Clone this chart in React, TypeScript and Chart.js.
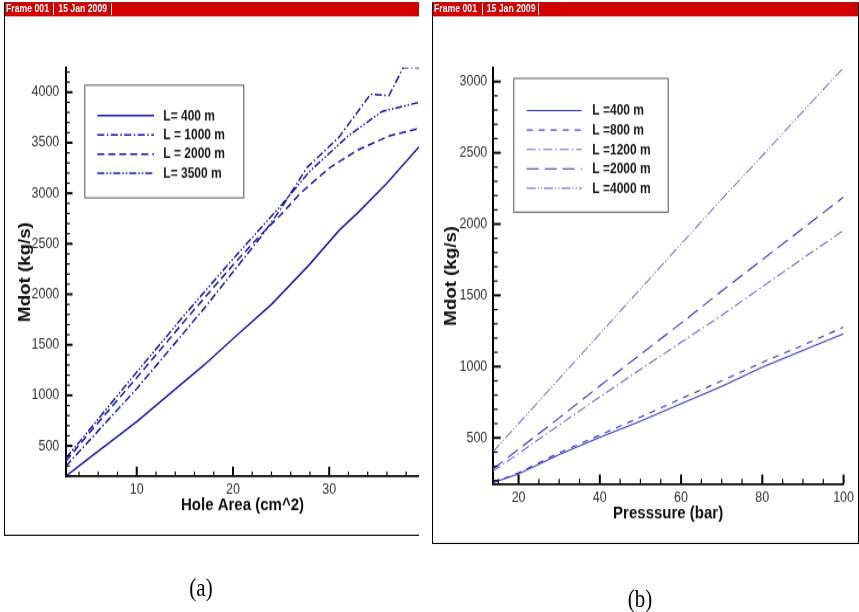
import React, { useEffect, useRef } from 'react';
import { Chart, registerables } from 'chart.js';

Chart.register(...registerables);

// ---------- Panel (a): Mdot vs Hole Area ----------
const areaX400 = [2.65, 5, 10, 14, 17, 20, 24, 28, 31, 33, 36, 39.33];
const mdotA400 = [200, 375, 740, 1060, 1300, 1560, 1900, 2300, 2630, 2810, 3100, 3460];
const areaX1000 = [2.65, 5, 10, 13.5, 17, 20, 23, 25, 27.7, 31, 34.3, 36.2, 37.7, 39.33];
const mdotA1000 = [300, 545, 1066, 1462, 1860, 2220, 2580, 2850, 3256, 3553, 3981, 3965, 4244, 4244];
const areaX2000 = [2.65, 5, 10, 15, 20, 23, 25, 27, 30, 33, 36.3, 39.33];
const mdotA2000 = [350, 620, 1175, 1740, 2290, 2600, 2790, 3000, 3250, 3430, 3570, 3640];
const areaX3500 = [2.65, 5, 10, 15, 20, 25, 28, 32, 35.5, 39.33];
const mdotA3500 = [380, 650, 1230, 1800, 2350, 2880, 3220, 3570, 3810, 3900];
const labelsA = ['L= 400 m', 'L = 1000 m', 'L = 2000 m', 'L= 3500 m'];
const xTicksA = [10, 20, 30];
const yTicksA = [500, 1000, 1500, 2000, 2500, 3000, 3500, 4000];

// ---------- Panel (b): Mdot vs Pressure ----------
const pressX = [13.63, 20, 30, 40, 50, 60, 70, 80, 90, 100];
const mdotP400 = [185, 247, 383, 504, 617, 740, 860, 996, 1113, 1230];
const mdotP800 = [185, 255, 395, 520, 645, 775, 900, 1030, 1150, 1277];
const mdotP1200 = [265, 390, 590, 788, 980, 1170, 1360, 1560, 1760, 1956];
const mdotP2000 = [280, 420, 640, 865, 1085, 1305, 1530, 1750, 1970, 2190];
const mdotP4000 = [400, 600, 915, 1230, 1545, 1860, 2175, 2480, 2790, 3098];
const labelsB = ['L =400 m', 'L =800 m', 'L =1200 m', 'L =2000 m', 'L =4000 m'];
const xTicksB = [20, 40, 60, 80, 100];
const yTicksB = [500, 1000, 1500, 2000, 2500, 3000];

const S = 1.17; // vertical stretch of the reference figure
const SANS = "'Liberation Sans', Arial, sans-serif";

const pts = (xs: number[], ys: number[]) => xs.map((x, i) => ({ x, y: ys[i] }));

function makeDecor(p: any) {
  const t = p.ticks;
  const lg = p.legend;
  return {
    id: 'decor',
    afterDraw(chart: any) {
      const { ctx, chartArea } = chart;
      const xs = chart.scales.x;
      const ys = chart.scales.y;
      const eps = 1e-6;
      ctx.save();
      ctx.setLineDash([]);
      ctx.strokeStyle = '#000';
      // inner tick marks on x axis
      const k0x = Math.ceil(xs.min / t.xMinor - eps);
      const k1x = Math.floor(xs.max / t.xMinor + eps);
      for (let k = k0x; k <= k1x; k++) {
        const v = k * t.xMinor;
        const major = t.xMajor.some((m: number) => Math.abs(m - v) < eps);
        const px = xs.getPixelForValue(v);
        ctx.lineWidth = major ? 2 : 1.2;
        ctx.beginPath();
        ctx.moveTo(px, chartArea.bottom);
        ctx.lineTo(px, chartArea.bottom - (major ? t.xMajorLen : t.xMinorLen));
        ctx.stroke();
      }
      // inner tick marks on y axis
      const k0y = Math.ceil(ys.min / t.yMinor - eps);
      const k1y = Math.floor(ys.max / t.yMinor + eps);
      for (let k = k0y; k <= k1y; k++) {
        const v = k * t.yMinor;
        const major = t.yMajor.some((m: number) => Math.abs(m - v) < eps);
        const py = ys.getPixelForValue(v);
        ctx.lineWidth = major ? 2 : 1.2;
        ctx.beginPath();
        ctx.moveTo(chartArea.left, py);
        ctx.lineTo(chartArea.left + (major ? t.yMajorLen : t.yMinorLen), py);
        ctx.stroke();
      }
      // legend box
      ctx.fillStyle = '#fff';
      ctx.fillRect(lg.x1, lg.y1, lg.x2 - lg.x1, lg.y2 - lg.y1);
      ctx.strokeStyle = '#555';
      ctx.lineWidth = 1;
      ctx.strokeRect(lg.x1 + 0.5, lg.y1 + 0.5, lg.x2 - lg.x1, lg.y2 - lg.y1);
      chart.data.datasets.forEach((d: any, i: number) => {
        const y = lg.rowY0 + i * lg.rowGap;
        ctx.setLineDash(d.borderDash || []);
        ctx.strokeStyle = d.borderColor;
        ctx.lineWidth = d.borderWidth;
        ctx.beginPath();
        ctx.moveTo(lg.sx1, y);
        ctx.lineTo(lg.sx2, y);
        ctx.stroke();
        ctx.setLineDash([]);
        ctx.fillStyle = '#1a1a1a';
        ctx.font = lg.font;
        ctx.textBaseline = 'middle';
        ctx.textAlign = 'left';
        ctx.fillText(d.label, lg.tx, y + 0.5);
      });
      ctx.restore();
    },
  };
}

function makeConfig(p: any) {
  const tickFont = { family: SANS, size: 12.5 };
  return {
    type: 'line',
    data: { datasets: p.datasets },
    plugins: [makeDecor(p)],
    options: {
      responsive: false,
      animation: false,
      devicePixelRatio: 1,
      events: [],
      layout: { padding: { top: p.padTop, right: p.padRight, left: 0, bottom: 0 } },
      elements: { point: { radius: 0 }, line: { tension: 0 } },
      plugins: {
        legend: { display: false },
        tooltip: { enabled: false },
      },
      scales: {
        x: {
          type: 'linear',
          min: p.xMin,
          max: p.xMax,
          afterBuildTicks: (s: any) => { s.ticks = p.xTicks.map((v: number) => ({ value: v })); },
          afterFit: (s: any) => { s.height = p.xHeight; },
          grid: { display: false, drawTicks: false },
          border: { display: true, color: '#000', width: 1.8 },
          ticks: { font: tickFont, color: '#333', padding: p.xTickPad, maxRotation: 0, autoSkip: false, callback: (v: any) => String(v) },
          title: { display: true, text: p.xTitle, color: '#111', font: { family: SANS, size: 15, weight: 'bold' }, padding: { top: 0, bottom: p.xTitlePad } },
        },
        y: {
          type: 'linear',
          min: p.yMin,
          max: p.yMax,
          afterBuildTicks: (s: any) => { s.ticks = p.yTicks.map((v: number) => ({ value: v })); },
          afterFit: (s: any) => { s.width = p.yWidth; },
          grid: { display: false, drawTicks: false },
          border: { display: true, color: '#000', width: 2 },
          ticks: { font: tickFont, color: '#333', padding: p.yTickPad, autoSkip: false, callback: (v: any) => String(v) },
          title: { display: true, text: 'Mdot (kg/s)', color: '#111', font: { family: SANS, size: 16, weight: 'bold' }, padding: { top: p.yTitlePad, bottom: 0 } },
        },
      },
    },
  };
}

const ds = (label: string, data: any[], color: string, width: number, dash: number[]) => ({
  label, data, borderColor: color, borderWidth: width, borderDash: dash, fill: false, pointRadius: 0,
});

const CA = '#1818a8';

const panelA = {
  datasets: [
    ds(labelsA[0], pts(areaX400, mdotA400), CA, 1.5, []),
    ds(labelsA[1], pts(areaX1000, mdotA1000), CA, 1.5, [7, 2.5, 1.5, 2.5]),
    ds(labelsA[2], pts(areaX2000, mdotA2000), CA, 1.5, [7, 4]),
    ds(labelsA[3], pts(areaX3500, mdotA3500), CA, 1.5, [7, 2, 1.5, 2, 1.5, 2]),
  ],
  padTop: (67 - 17) / S, padRight: 0,
  xMin: 2.65, xMax: 39.33, yMin: 196, yMax: 4244,
  xTicks: xTicksA, yTicks: yTicksA,
  xHeight: 442 - (476 - 17) / S, yWidth: 61,
  xTickPad: 3.6, yTickPad: 6.7,
  xTitle: 'Hole Area (cm^2)', xTitlePad: 16.5, yTitlePad: 10.5,
  ticks: { xMajor: xTicksA, xMinor: 2, yMajor: yTicksA, yMinor: 100, xMajorLen: 8.5, xMinorLen: 4.3, yMajorLen: 6.5, yMinorLen: 3.8 },
  legend: { x1: 79.3, y1: 57.3, x2: 238.3, y2: 153.6, sx1: 92.3, sx2: 149, tx: 158.3, rowY0: 83.8, rowGap: 16.43, font: `bold 12px ${SANS}` },
};

const panelB = {
  datasets: [
    ds(labelsB[0], pts(pressX, mdotP400), '#3838c4', 1.1, []),
    ds(labelsB[1], pts(pressX, mdotP800), '#3434c0', 1.1, [6, 6]),
    ds(labelsB[2], pts(pressX, mdotP1200), '#6a6ad0', 1.1, [9, 3, 1.5, 3]),
    ds(labelsB[3], pts(pressX, mdotP2000), '#3030bc', 1.1, [12, 6]),
    ds(labelsB[4], pts(pressX, mdotP4000), '#7878d4', 1.1, [9, 2, 1.2, 2, 1.2, 2]),
  ],
  padTop: (67.3 - 17) / S, padRight: 13,
  xMin: 13.63, xMax: 100, yMin: 177, yMax: 3096,
  xTicks: xTicksB, yTicks: yTicksB,
  xHeight: 450 - (483.3 - 17) / S, yWidth: 58.7,
  xTickPad: 4, yTickPad: 5.4,
  xTitle: 'Presssure (bar)', xTitlePad: 16.8, yTitlePad: 7.5,
  ticks: { xMajor: xTicksB, xMinor: 5, yMajor: yTicksB, yMinor: 100, xMajorLen: 8, xMinorLen: 4.3, yMajorLen: 8, yMinorLen: 5 },
  legend: { x1: 79.3, y1: 51.5, x2: 233.7, y2: 165.8, sx1: 92.7, sx2: 147.7, tx: 158.3, rowY0: 79.5, rowGap: 16.6, font: `bold 12px ${SANS}` },
};

function ChartCanvas({ panel, left, top, width, height }: any) {
  const ref = useRef<HTMLCanvasElement | null>(null);
  useEffect(() => {
    if (!ref.current) return;
    const chart = new Chart(ref.current, makeConfig(panel) as any);
    return () => chart.destroy();
  }, [panel]);
  return (
    <canvas
      ref={ref}
      width={width}
      height={height}
      style={{ position: 'absolute', left, top, width, height, display: 'block' }}
    />
  );
}

const Y = (py: number) => py / S;

function Header({ left, width, seps, items }: any) {
  const h = Y(16.7) - Y(2.7);
  return (
    <div style={{ position: 'absolute', left, top: Y(2.7), width, height: h, background: '#d20000' }}>
      {items.map((it: any, i: number) => (
        <span key={i} style={{ position: 'absolute', left: it.x - left, top: 0, lineHeight: `${h}px`, fontFamily: SANS, fontWeight: 'bold', fontSize: 8.7, color: '#fff', whiteSpace: 'nowrap' }}>{it.t}</span>
      ))}
      {seps.map((x: number, i: number) => (
        <div key={'s' + i} style={{ position: 'absolute', left: x - left, top: 1.2, width: 1, height: 9.5, background: '#fff' }} />
      ))}
    </div>
  );
}

export default function App() {
  return (
    <div style={{ position: 'absolute', left: 0, top: 0, width: 859, height: 612, overflow: 'hidden', background: '#fff' }}>
      <div style={{ position: 'absolute', left: 0, top: 0, width: 859, height: 612 / S, transform: `scaleY(${S})`, transformOrigin: '0 0' }}>
        {/* left frame */}
        <div style={{ position: 'absolute', left: 4, top: Y(2), width: 415, height: Y(535.5) - Y(2), borderLeft: '1px solid #000', borderTop: '1px solid #000', borderBottom: '1px solid #000', boxSizing: 'border-box' }} />
        <Header left={5} width={414} seps={[53.3, 111]} items={[{ x: 6, t: 'Frame 001' }, { x: 58.3, t: '15 Jan 2009' }]} />
        <ChartCanvas panel={panelA} left={5} top={Y(17)} width={414} height={442} />

        {/* right frame */}
        <div style={{ position: 'absolute', left: 432, top: Y(2), width: 427, height: Y(544.5) - Y(2), border: '1px solid #000', boxSizing: 'border-box' }} />
        <Header left={433} width={425} seps={[481.7, 538.3]} items={[{ x: 434, t: 'Frame 001' }, { x: 486.7, t: '15 Jan 2009' }]} />
        <ChartCanvas panel={panelB} left={434} top={Y(17)} width={424} height={450} />

        <div style={{ position: 'absolute', left: 201, top: Y(588), transform: 'translate(-50%, -50%)', fontFamily: "'Liberation Serif', 'Times New Roman', serif", fontSize: 21, color: '#000' }}>(a)</div>
        <div style={{ position: 'absolute', left: 640, top: Y(599), transform: 'translate(-50%, -50%)', fontFamily: "'Liberation Serif', 'Times New Roman', serif", fontSize: 21, color: '#000' }}>(b)</div>
      </div>
    </div>
  );
}
